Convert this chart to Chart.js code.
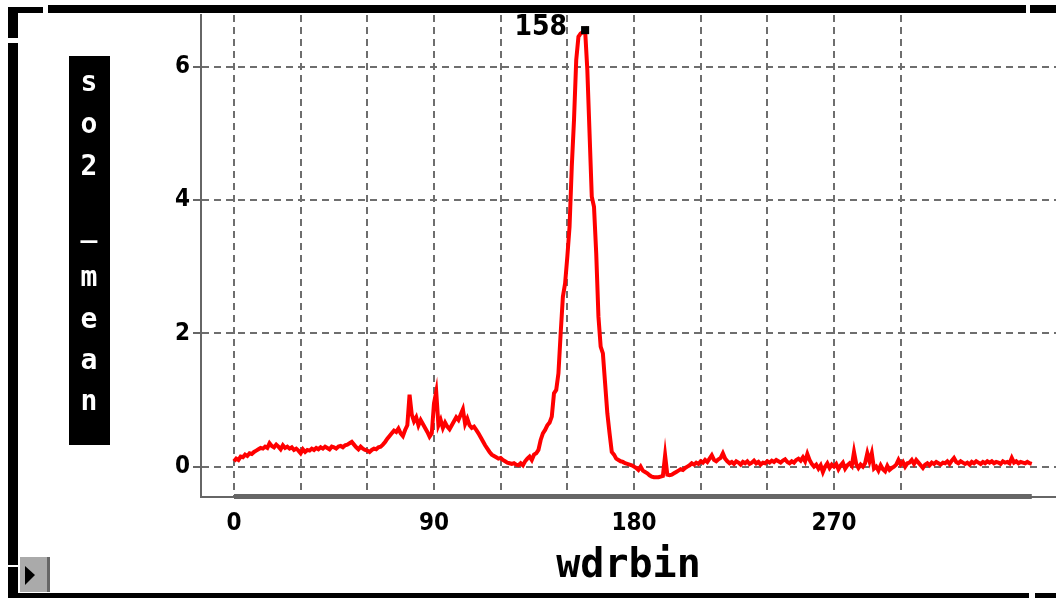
<!DOCTYPE html>
<html>
<head>
<meta charset="utf-8">
<script src="https://cdn.jsdelivr.net/npm/chart.js@4.4.1/dist/chart.umd.min.js"></script>
<style>
  html, body { margin: 0; padding: 0; background: #fff; overflow: hidden; }
  #wrap { position: absolute; left: 0; top: 0; width: 1056px; height: 598px; }
</style>
</head>
<body>
<div id="wrap"><canvas id="myChart" width="1056" height="598"></canvas></div>
<script>
// so2_mean per wind direction bin (0..359)
const so2Mean = [
   0.08, 0.12, 0.10, 0.15, 0.14, 0.18, 0.16, 0.20, 0.19, 0.22,
   0.24, 0.26, 0.28, 0.27, 0.30, 0.28, 0.35, 0.31, 0.29, 0.33,
   0.30, 0.26, 0.32, 0.28, 0.30, 0.27, 0.29, 0.25, 0.27, 0.24,
   0.20, 0.26, 0.22, 0.25, 0.24, 0.27, 0.25, 0.28, 0.26, 0.29,
   0.27, 0.30, 0.28, 0.26, 0.30, 0.29, 0.27, 0.30, 0.31, 0.29,
   0.32, 0.33, 0.35, 0.37, 0.33, 0.29, 0.26, 0.30, 0.27, 0.25,
   0.24, 0.22, 0.25, 0.27, 0.26, 0.29, 0.30, 0.33, 0.37, 0.42,
   0.46, 0.50, 0.54, 0.52, 0.57, 0.50, 0.46, 0.55, 0.62, 1.08,
   0.78, 0.68, 0.74, 0.62, 0.70, 0.64, 0.58, 0.52, 0.45, 0.50,
   0.95, 1.12, 0.62, 0.70, 0.58, 0.66, 0.60, 0.56, 0.62, 0.68,
   0.74, 0.70, 0.78, 0.86, 0.64, 0.72, 0.62, 0.58, 0.60, 0.55,
   0.50, 0.44, 0.38, 0.32, 0.27, 0.22, 0.18, 0.16, 0.14, 0.12,
   0.13, 0.10, 0.08, 0.06, 0.05, 0.04, 0.05, 0.03, 0.02, 0.05,
   0.02, 0.08, 0.12, 0.15, 0.10, 0.18, 0.20, 0.25, 0.40, 0.50,
   0.55, 0.62, 0.66, 0.75, 1.10, 1.15, 1.40, 2.00, 2.55, 2.75,
   3.15, 3.60, 4.50, 5.20, 6.10, 6.45, 6.50, 6.52, 6.55, 5.95,
   5.00, 4.05, 3.90, 3.20, 2.25, 1.80, 1.70, 1.25, 0.80, 0.50,
   0.22, 0.18, 0.12, 0.10, 0.08, 0.07, 0.05, 0.04, 0.03, 0.02,
   0.00, -0.02, -0.05, 0.00, -0.06, -0.08, -0.10, -0.13, -0.15, -0.16,
   -0.16, -0.16, -0.15, -0.14, 0.17, -0.12, -0.13, -0.12, -0.10, -0.08,
   -0.06, -0.04, -0.05, -0.02, 0.00, 0.02, 0.05, 0.03, 0.06, 0.04,
   0.08, 0.06, 0.10, 0.07, 0.12, 0.17, 0.10, 0.08, 0.11, 0.13,
   0.20, 0.12, 0.08, 0.05, 0.07, 0.04, 0.08, 0.06, 0.03, 0.07,
   0.05, 0.08, 0.04, 0.06, 0.09, 0.05, 0.07, 0.03, 0.06, 0.05,
   0.08, 0.06, 0.09, 0.07, 0.10, 0.08, 0.06, 0.09, 0.11, 0.07,
   0.05, 0.08, 0.06, 0.10, 0.12, 0.09, 0.14, 0.08, 0.19, 0.10,
   0.04, 0.00, 0.03, -0.03, 0.02, -0.08, 0.00, 0.05, -0.02, 0.03,
   0.00, 0.04, -0.04, 0.02, 0.06, -0.03, 0.02, 0.05, 0.01, 0.22,
   0.04, -0.02, 0.03, 0.00, 0.05, 0.20, 0.08, 0.20, -0.03, 0.00,
   -0.06, 0.02, -0.04, -0.07, 0.01, -0.05, -0.02, 0.00, 0.03, 0.10,
   0.03, 0.07, 0.00, 0.05, 0.06, 0.10, 0.04, 0.10, 0.06, 0.02,
   -0.02, 0.03, 0.05, 0.02, 0.06, 0.04, 0.07, 0.05, 0.03, 0.06,
   0.05, 0.08, 0.04, 0.09, 0.13, 0.07, 0.05, 0.08, 0.06, 0.04,
   0.06, 0.03, 0.07, 0.05, 0.08, 0.06, 0.04, 0.07, 0.05, 0.08,
   0.06, 0.08, 0.05, 0.07, 0.06, 0.04, 0.08, 0.06, 0.07, 0.05,
   0.13, 0.06, 0.08, 0.05, 0.07, 0.06, 0.05, 0.07, 0.05, 0.04
];
const wdrbin = so2Mean.map((v, i) => i);
const xGridTicks = [0, 30, 60, 90, 120, 150, 180, 210, 240, 270, 300];
const xTickLabels = [0, 90, 180, 270];
const yTicks = [0, 2, 4, 6];
const xTitle = 'wdrbin';
const yTitle = 'so2_mean';

const peakIdx = so2Mean.indexOf(Math.max(...so2Mean));
const gridGray = '#6e6e6e';
const axisGray = '#666666';
const tickFont = "'DejaVu Sans Condensed', 'Liberation Sans Narrow', 'DejaVu Sans', sans-serif";
const monoFont = "'DejaVu Sans Mono', monospace";

// frame, y title box, thick x axis part and the peak label
const decorPlugin = {
   id: 'decor',
   beforeDraw(chart) {
      const ctx = chart.ctx;
      ctx.save();
      ctx.fillStyle = '#fff';
      ctx.fillRect(0, 0, chart.width, chart.height);
      ctx.restore();
   },
   afterDatasetsDraw(chart) {
      const ctx = chart.ctx;
      const pt = chart.getDatasetMeta(0).data[peakIdx];
      ctx.save();
      ctx.fillStyle = '#000';
      ctx.font = "bold 28px " + tickFont;
      ctx.textAlign = 'right';
      ctx.textBaseline = 'middle';
      ctx.fillText(String(wdrbin[peakIdx]), pt.x - 18, pt.y - 2);
      ctx.restore();
   },
   afterDraw(chart) {
      const ctx = chart.ctx;
      const xs = chart.scales.x;
      const area = chart.chartArea;
      ctx.save();
      // thicker axis segment under the data range
      const x0 = xs.getPixelForValue(wdrbin[0]);
      const x1 = xs.getPixelForValue(wdrbin[wdrbin.length - 1]);
      ctx.fillStyle = axisGray;
      ctx.fillRect(x0, area.bottom - 3, x1 - x0, 5);

      // window frame
      ctx.fillStyle = '#000';
      ctx.fillRect(8, 7, 35, 6);
      ctx.fillRect(48, 5, 978, 8);
      ctx.fillRect(1030, 5, 26, 8);
      ctx.fillRect(8, 7, 10, 591);
      ctx.fillRect(8, 593, 1021, 5);
      ctx.fillRect(1035, 593, 21, 5);
      ctx.fillStyle = '#fff';
      ctx.fillRect(8, 38, 10, 5);
      ctx.fillRect(8, 565, 12, 2);

      // scroll button
      ctx.fillStyle = '#aaaaaa';
      ctx.fillRect(20, 557, 30, 35);
      ctx.fillStyle = '#666';
      ctx.fillRect(47, 557, 3, 35);
      ctx.fillStyle = '#000';
      ctx.beginPath();
      ctx.moveTo(25, 566);
      ctx.lineTo(35, 575);
      ctx.lineTo(25, 585);
      ctx.closePath();
      ctx.fill();

      // stacked y title
      ctx.fillStyle = '#000';
      ctx.fillRect(69, 56, 41, 389);
      ctx.fillStyle = '#fff';
      ctx.font = "bold 28px " + monoFont;
      ctx.textAlign = 'center';
      ctx.textBaseline = 'middle';
      const rows = [84, 126, 168, 229, 279, 321, 362, 403];
      yTitle.split('').forEach((ch, i) => {
         ctx.fillText(ch, 89, rows[i]);
      });
      ctx.restore();
   }
};

var ctx = document.getElementById('myChart');
var myChart = new Chart(ctx, {
   type: 'line',
   data: {
      labels: wdrbin,
      datasets: [
         {
            data: so2Mean,
            borderColor: '#ff0000',
            borderWidth: 4,
            tension: 0,
            fill: false,
            pointRadius: (c) => c.dataIndex === peakIdx ? 5.7 : 0,
            pointStyle: 'rect',
            pointBackgroundColor: '#000',
            pointBorderWidth: 0,
            clip: false,
         },
      ],
   },
   options: {
      responsive: false,
      animation: false,
      events: [],
      layout: { padding: { top: 13, left: 0, right: 0, bottom: 0 } },
      plugins: {
         legend: { display: false },
         tooltip: { enabled: false },
      },
      scales: {
         x: {
            type: 'linear',
            min: -14.85,
            max: 369.9,
            afterBuildTicks: (scale) => {
               scale.ticks = xGridTicks.map(v => ({ value: v }));
            },
            afterFit: (scale) => { scale.height = 101; },
            grid: {
               color: gridGray,
               lineWidth: 2,
               drawTicks: false,
               tickLength: 0,
            },
            border: { display: true, color: axisGray, width: 2, dash: [7, 5] },
            ticks: {
               autoSkip: false,
               maxRotation: 0,
               padding: 15,
               color: '#000',
               font: { family: tickFont, size: 24, weight: 'bold', lineHeight: 1 },
               callback: (v) => xTickLabels.includes(v) ? String(v) : '',
            },
            title: {
               display: true,
               text: xTitle,
               color: '#000',
               font: { family: monoFont, size: 40, weight: 'bold', lineHeight: 1 },
               padding: { top: 0, bottom: 11 },
            },
         },
         y: {
            type: 'linear',
            min: -0.456,
            max: 6.777,
            afterBuildTicks: (scale) => {
               scale.ticks = yTicks.map(v => ({ value: v }));
            },
            afterFit: (scale) => { scale.width = 201; },
            grid: {
               color: gridGray,
               lineWidth: 2,
               tickLength: 8,
               tickColor: axisGray,
               tickWidth: 2,
               tickBorderDash: [],
            },
            border: { display: true, color: axisGray, width: 2, dash: [7, 5] },
            ticks: {
               padding: 3,
               color: '#000',
               font: { family: tickFont, size: 24, weight: 'bold', lineHeight: 1 },
            },
         },
      },
   },
   plugins: [decorPlugin],
});
</script>
</body>
</html>
